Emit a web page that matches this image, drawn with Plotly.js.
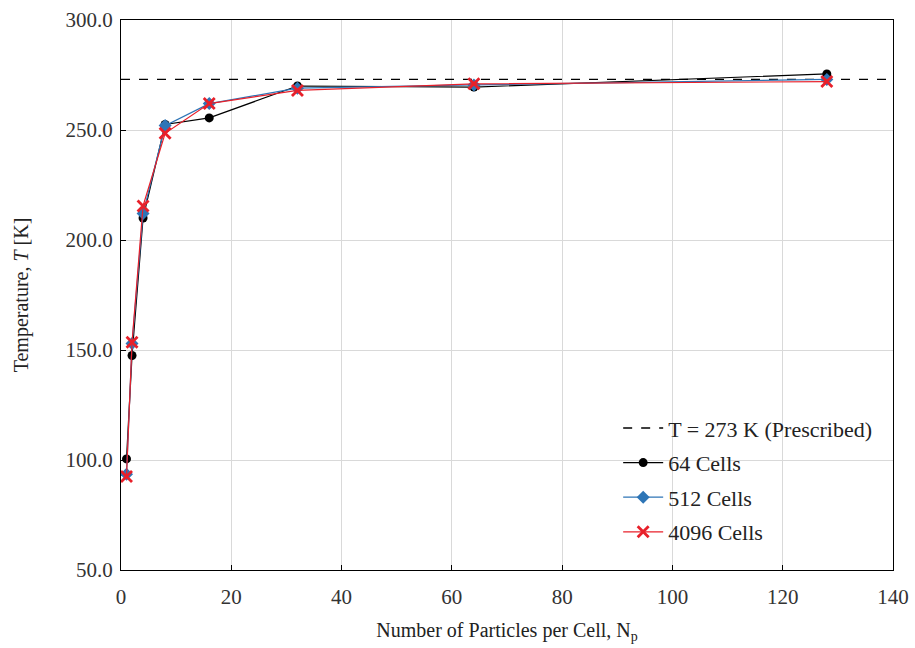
<!DOCTYPE html>
<html><head><meta charset="utf-8">
<script src="https://cdn.plot.ly/plotly-3.0.1.min.js"></script>
<style>body{margin:0;background:#fff}#c{width:915px;height:648px}</style>
</head><body><div id="c"></div>
<script>
const particles = [1, 2, 4, 8, 16, 32, 64, 128];
const cells64 = [100.5, 147.5, 210, 252.5, 255.5, 270, 269.5, 275.5];
const cells512 = [93.5, 153, 212, 252, 262, 269, 270.5, 273];
const cells4096 = [92.5, 153.5, 215.5, 248.5, 262, 268, 271, 272];
const prescribedX = [0, 140];
const prescribedY = [273, 273];
const names = ['T = 273 K (Prescribed)', '64 Cells', '512 Cells', '4096 Cells'];

const fam = '"Liberation Serif", "Times New Roman", serif';
const traces = [
  {x: prescribedX, y: prescribedY, name: names[0], mode: 'lines', legendgroup: 'a',
   line: {color: '#000', width: 1.3, dash: 'dash'}},
  {x: particles, y: cells64, name: names[1], mode: 'lines+markers', legendgroup: 'b',
   line: {color: '#000', width: 1.2}, marker: {symbol: 'circle', size: 9, color: '#000'}},
  {x: particles, y: cells512, name: names[2], mode: 'lines+markers', legendgroup: 'c',
   line: {color: '#2e75b6', width: 1.2}, marker: {symbol: 'diamond', size: 10, color: '#2e75b6'}},
  {x: particles, y: cells4096, name: names[3], mode: 'lines+markers', legendgroup: 'd',
   line: {color: '#e8202a', width: 1.2}, marker: {symbol: 'x-thin', size: 11, color: '#e8202a', line: {color: '#e8202a', width: 2.8}}}
];
const layout = {
  width: 915, height: 648,
  margin: {l: 121, r: 22, t: 20, b: 78},
  paper_bgcolor: '#fff', plot_bgcolor: '#fff',
  font: {family: fam, color: '#222', size: 20},
  showlegend: true,
  legend: {x: 0.644, y: 0.296, xanchor: 'left', yanchor: 'top', traceorder: 'grouped', tracegroupgap: 3,
           itemwidth: 40,
           font: {family: fam, size: 22, color: '#222'}, bgcolor: 'rgba(0,0,0,0)'},
  xaxis: {range: [0, 140], dtick: 20, tick0: 0, showgrid: true, gridcolor: '#d9d9d9', gridwidth: 1,
          zeroline: false, showline: true, linecolor: '#000', linewidth: 1.2, mirror: true,
          ticks: 'inside', ticklen: 5, tickcolor: '#000', ticklabelstandoff: 8,
          tickfont: {family: fam, size: 21, color: '#333'},
          title: {text: 'Number of Particles per Cell, N<sub>p</sub>', standoff: 14,
                  font: {family: fam, size: 20, color: '#222'}}},
  yaxis: {range: [50, 300], dtick: 50, tick0: 50, tickformat: '.1f', showgrid: true, gridcolor: '#d9d9d9', gridwidth: 1,
          zeroline: false, showline: true, linecolor: '#000', linewidth: 1.2, mirror: true,
          ticks: 'inside', ticklen: 5, tickcolor: '#000', ticklabelstandoff: 3,
          tickfont: {family: fam, size: 21, color: '#333'},
          title: {text: 'Temperature, <i>T</i> [K]', standoff: 31,
                  font: {family: fam, size: 20, color: '#222'}}}
};
Plotly.newPlot('c', traces, layout, {displayModeBar: false});
</script></body></html>
